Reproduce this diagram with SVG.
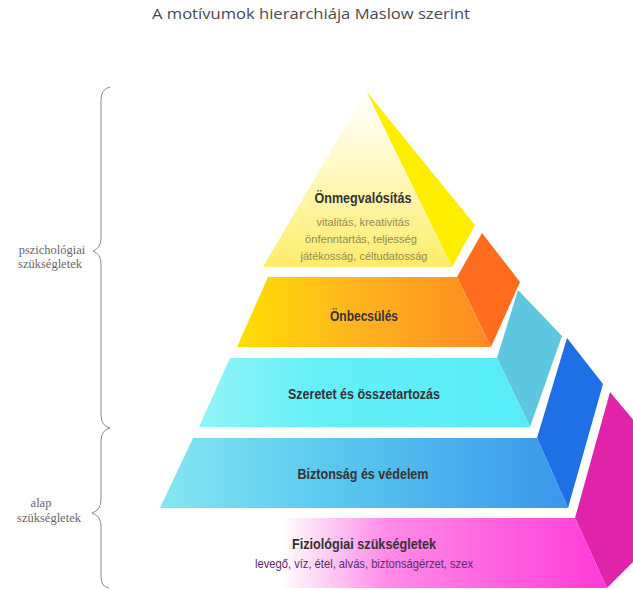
<svg xmlns="http://www.w3.org/2000/svg" width="633" height="590" viewBox="0 0 633 590">
<style>
.title{font-family:"Open Sans","Liberation Sans",sans-serif;font-size:14px;fill:#4a4a4a;}
.lbl{font-family:"Liberation Sans",Arial,sans-serif;font-weight:bold;font-size:15px;fill:#333;text-anchor:middle;}
.sub{font-family:"Liberation Sans",Arial,sans-serif;font-size:11.5px;fill:#948c50;text-anchor:middle;}
.sub2{font-family:"Liberation Sans",Arial,sans-serif;font-size:13px;fill:#5a2a6a;text-anchor:middle;}
.side{font-family:"Liberation Serif","Times New Roman",serif;font-size:12.5px;fill:#666;text-anchor:middle;}
.brace{fill:none;stroke:#8a8a8a;stroke-width:1;}
</style>
<defs>
<linearGradient id="g1" x1="0" y1="0" x2="0" y2="1">
<stop offset="0" stop-color="#ffffff"/><stop offset="0.4" stop-color="#fffac8"/><stop offset="1" stop-color="#ffec6a"/>
</linearGradient>
<linearGradient id="g2" x1="0" y1="0" x2="1" y2="0">
<stop offset="0" stop-color="#ffde00"/><stop offset="0.45" stop-color="#ffb61e"/><stop offset="1" stop-color="#ff8a22"/>
</linearGradient>
<linearGradient id="g3" x1="0" y1="0" x2="1" y2="0">
<stop offset="0" stop-color="#92f4f6"/><stop offset="0.35" stop-color="#66f0f8"/><stop offset="1" stop-color="#55ecf8"/>
</linearGradient>
<linearGradient id="g4" x1="0" y1="0" x2="1" y2="0">
<stop offset="0" stop-color="#86e6f2"/><stop offset="0.4" stop-color="#5ccaf0"/><stop offset="1" stop-color="#3a96ea"/>
</linearGradient>
<linearGradient id="g5" x1="0" y1="0" x2="1" y2="0">
<stop offset="0" stop-color="#ffffff"/><stop offset="0.33" stop-color="#ffffff"/><stop offset="0.55" stop-color="#ff8ae8"/><stop offset="1" stop-color="#ff3ad8"/>
</linearGradient>
</defs>
<rect width="633" height="590" fill="#ffffff"/>
<text class="title" x="152" y="19" textLength="318" lengthAdjust="spacingAndGlyphs">A motívumok hierarchiája Maslow szerint</text>

<g id="layer5">
<polygon points="575,518 610,392 650,440 650,545 607,588" fill="#e024aa"/>
<polygon points="155,518 575,518 607,588 120,588" fill="url(#g5)"/>
<text class="lbl" x="364" y="549" textLength="144" lengthAdjust="spacingAndGlyphs">Fiziológiai szükségletek</text>
<text class="sub2" x="364" y="568" textLength="218" lengthAdjust="spacingAndGlyphs">levegő, víz, étel, alvás, biztonságérzet, szex</text>
</g>

<g id="layer4">
<polygon points="537,438 567,338 603,384 568,508" fill="#1f6fe6"/>
<polygon points="193,438 537,438 568,508 160,508" fill="url(#g4)"/>
<text class="lbl" x="363" y="479" textLength="131" lengthAdjust="spacingAndGlyphs">Biztonság és védelem</text>
</g>

<g id="layer3">
<polygon points="497,358 518,290 562,336 530,427" fill="#5ec6de"/>
<polygon points="230,358 497,358 530,427 199,427" fill="url(#g3)"/>
<text class="lbl" x="364" y="399" textLength="152" lengthAdjust="spacingAndGlyphs">Szeretet és összetartozás</text>
</g>

<g id="layer2">
<polygon points="457,277 482,233 520,282 491,347" fill="#ff6c1e"/>
<polygon points="268,277 457,277 491,347 237,347" fill="url(#g2)"/>
<text class="lbl" x="364" y="321" textLength="68" lengthAdjust="spacingAndGlyphs">Önbecsülés</text>
</g>

<g id="layer1">
<polygon points="366,91 475,225 452,267" fill="#ffee00"/>
<polygon points="366,91 452,267 263,267" fill="url(#g1)"/>
<text class="lbl" x="363" y="203" textLength="97" lengthAdjust="spacingAndGlyphs">Önmegvalósítás</text>
<text class="sub" x="363" y="226" textLength="93" lengthAdjust="spacingAndGlyphs">vitalitás, kreativitás</text>
<text class="sub" x="361" y="243" textLength="112" lengthAdjust="spacingAndGlyphs">önfenntartás, teljesség</text>
<text class="sub" x="364" y="260" textLength="127" lengthAdjust="spacingAndGlyphs">játékosság, céltudatosság</text>
</g>

<g id="braces">
<path class="brace" d="M110,87 Q101,89 101,100 L101,238 Q101,248 93,251 Q101,254 101,264 L101,415 Q101,426 110,428"/>
<path class="brace" d="M110,428 Q101,430 101,441 L101,500 Q101,510 92,513 Q101,516 101,526 L101,577 Q101,587 109,588"/>
</g>

<g id="label-psych">
<text class="side" x="52" y="254">pszichológiai</text>
<text class="side" x="50" y="268">szükségletek</text>
</g>
<g id="label-basic">
<text class="side" x="41" y="507">alap</text>
<text class="side" x="49" y="522">szükségletek</text>
</g>
</svg>
